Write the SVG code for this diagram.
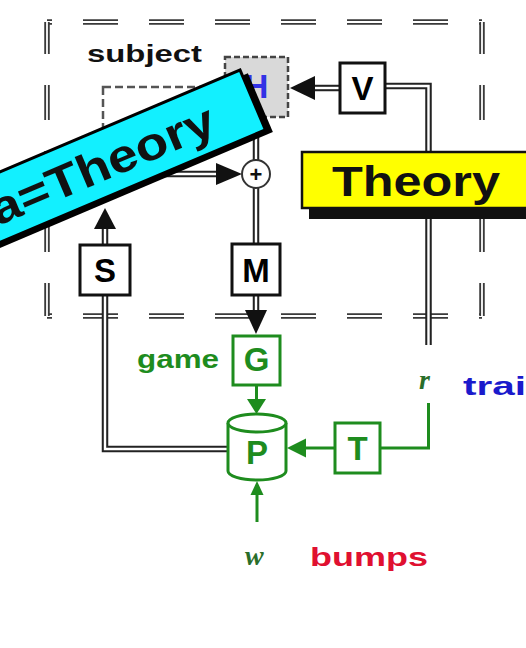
<svg xmlns="http://www.w3.org/2000/svg" xmlns:xlink="http://www.w3.org/1999/xlink" width="526" height="648" viewBox="0 0 526 648">
<style>
.b{font-family:"Liberation Sans",Arial,sans-serif;font-weight:bold}
.ob{fill:none;stroke:#3a3a3a;stroke-width:5.5;stroke-dasharray:35 31}
.oi{fill:none;stroke:#fff;stroke-width:1.8;stroke-dasharray:35 31}
.dl{fill:none;stroke:#222;stroke-width:6.5}
.di{fill:none;stroke:#fff;stroke-width:2.4}
.gl{fill:none;stroke:#1e8c1e;stroke-width:3}
.ah{fill:#111}
.ga{fill:#1e8c1e}
.box{fill:#fff;stroke:#111;stroke-width:3}
.gbox{fill:#fff;stroke:#1e8c1e;stroke-width:3}
.lt{font-family:"Liberation Sans",Arial,sans-serif;font-weight:bold;font-size:33px;text-anchor:middle}
.it{font-family:"Liberation Serif","Times New Roman",serif;font-style:italic;font-weight:bold;font-size:28px;fill:#2a6e2a}
</style>
<defs>
<path id="oh" d="M47,22 H482 M47,316 H482"/>
<path id="ov" d="M482,22 V316 M47,22 V316"/>
<path id="c1" d="M385,86 H428.5 V345"/>
<path id="c2" d="M340,88 H312"/>
<path id="c3" d="M256,117 V160"/>
<path id="c4" d="M256,188 V244"/>
<path id="c5" d="M160,174 H219"/>
<path id="c6" d="M105,245 V226"/>
<path id="c7" d="M256,295 V313"/>
<path id="c8" d="M105,295 V449 H228"/>
</defs>
<rect width="526" height="648" fill="#fff"/>

<g id="boundary">
<use xlink:href="#oh" class="ob" stroke-dashoffset="30"/>
<use xlink:href="#oh" class="oi" stroke-dashoffset="30"/>
<use xlink:href="#ov" class="ob" stroke-dashoffset="3"/>
<use xlink:href="#ov" class="oi" stroke-dashoffset="3"/>
<text class="b" x="87" y="62" font-size="23.5" fill="#111" textLength="115" lengthAdjust="spacingAndGlyphs">subject</text>
</g>

<g id="connectors">
<use xlink:href="#c1" class="dl"/><use xlink:href="#c1" class="di"/>
<use xlink:href="#c2" class="dl"/><use xlink:href="#c2" class="di"/>
<use xlink:href="#c3" class="dl"/><use xlink:href="#c3" class="di"/>
<use xlink:href="#c4" class="dl"/><use xlink:href="#c4" class="di"/>
<use xlink:href="#c5" class="dl"/><use xlink:href="#c5" class="di"/>
<use xlink:href="#c6" class="dl"/><use xlink:href="#c6" class="di"/>
<use xlink:href="#c7" class="dl"/><use xlink:href="#c7" class="di"/>
<use xlink:href="#c8" class="dl"/><use xlink:href="#c8" class="di"/>
<polygon class="ah" points="290,88 315,76 315,100"/>
<polygon class="ah" points="242,174 216,163 216,185"/>
<polygon class="ah" points="105,208 94,229 116,229"/>
<polygon class="ah" points="256,334 245,310 267,310"/>
<path class="gl" d="M256.5,385 V402"/>
<polygon class="ga" points="256.5,414 247,399 266,399"/>
<path class="gl" d="M335,448 H304"/>
<polygon class="ga" points="287,448 306,438.5 306,457.5"/>
<path class="gl" d="M380,448 H428.5 V403"/>
<path class="gl" stroke-width="2.5" d="M257,522 V492"/>
<polygon class="ga" points="257,481 250.5,495 263.5,495"/>
</g>

<g id="inner">
<rect x="103" y="87" width="97" height="63" fill="#fff" stroke="#555" stroke-width="2.5" stroke-dasharray="8 4"/>
</g>

<g id="H">
<rect x="225" y="57" width="63" height="60" fill="#d9d9d9" stroke="#444" stroke-width="2.5" stroke-dasharray="6 3"/>
<text class="lt" x="256.5" y="98" font-size="30" fill="#3232e6">H</text>
</g>

<g id="sum">
<circle cx="256" cy="174" r="14" fill="#fff" stroke="#333" stroke-width="2"/>
<text class="b" x="256" y="182" font-size="22" text-anchor="middle" fill="#111">+</text>
</g>

<g id="V"><rect class="box" x="340" y="63" width="45" height="50"/><text class="lt" x="362.5" y="100">V</text></g>
<g id="S"><rect class="box" x="80" y="245" width="50" height="50"/><text class="lt" x="105" y="282">S</text></g>
<g id="M"><rect class="box" x="232" y="244" width="48" height="51"/><text class="lt" x="256" y="282">M</text></g>

<g id="G">
<rect class="gbox" x="233" y="336" width="47" height="49"/>
<text class="lt" x="256.5" y="371" font-size="31" fill="#1e8c1e">G</text>
<text class="b" x="137" y="368" font-size="26" fill="#1e8c1e" textLength="82" lengthAdjust="spacingAndGlyphs">game</text>
</g>

<g id="P">
<path d="M228,423 V471 A29,9 0 0 0 286,471 V423" fill="#fff" stroke="#1e8c1e" stroke-width="3"/>
<ellipse cx="257" cy="423" rx="29" ry="9" fill="#fff" stroke="#1e8c1e" stroke-width="3"/>
<text class="lt" x="257" y="464" font-size="31" fill="#1e8c1e">P</text>
</g>

<g id="T">
<rect class="gbox" x="335" y="423" width="45" height="50"/>
<text class="lt" x="357.5" y="460" font-size="31" fill="#1e8c1e">T</text>
</g>

<g id="r-input">
<text class="it" x="419" y="389">r</text>
<text class="b" x="463" y="395" font-size="26" fill="#1a1acc" textLength="63" lengthAdjust="spacingAndGlyphs">trai</text>
</g>

<g id="w-input">
<text class="it" x="245" y="565">w</text>
<text class="b" x="310" y="566" font-size="26" fill="#e01030" textLength="118" lengthAdjust="spacingAndGlyphs">bumps</text>
</g>

<g id="theory">
<rect x="309" y="163" width="240" height="56" fill="#111"/>
<rect x="302" y="152" width="240" height="56" fill="#ffff00" stroke="#111" stroke-width="2.5"/>
<text class="b" x="332" y="196" font-size="42" fill="#111" textLength="168" lengthAdjust="spacingAndGlyphs">Theory</text>
</g>

<g id="banner" transform="translate(240,70) rotate(-23)">
<rect x="-360" y="6" width="366" height="64" fill="#000"/>
<rect x="-360" y="0" width="360" height="65" fill="#12f0ff" stroke="#000" stroke-width="3"/>
<text class="b" x="-284" y="49" font-size="46" fill="#111" textLength="240" lengthAdjust="spacingAndGlyphs">a=Theory</text>
</g>
</svg>
